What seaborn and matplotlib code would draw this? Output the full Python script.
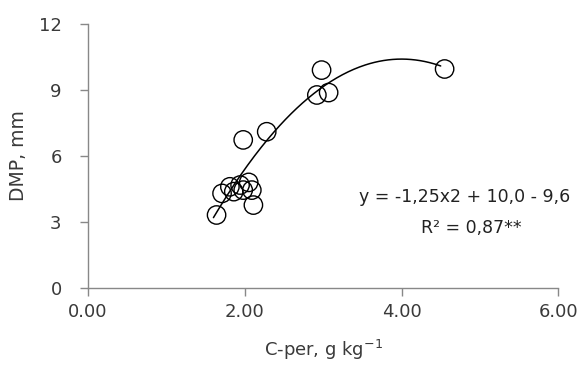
import numpy as np
import pandas as pd
import matplotlib
matplotlib.use("Agg")
import matplotlib.pyplot as plt
import seaborn as sns

# Data
c_per = [1.64, 1.71, 1.81, 1.86, 1.94, 1.98, 2.05, 2.09, 2.11, 1.98, 2.28, 2.92, 2.98, 3.07, 4.55]
dmp   = [3.32, 4.30, 4.60, 4.38, 4.68, 4.45, 4.80, 4.45, 3.77, 6.73, 7.10, 8.77, 9.90, 8.88, 9.95]
# Trendline coefficients shown on the chart (a*x^2 + b*x + c)
trend_coef = [-1.25, 10.0, -9.6]
trend_range = [1.6, 4.5]
x_ticks = [0, 2, 4, 6]
x_ticklabels = ["0.00", "2.00", "4.00", "6.00"]
y_ticks = [0, 3, 6, 9, 12]
eq_text = "y = -1,25x2 + 10,0 - 9,6"
r2_text = "R\u00b2 = 0,87**"

sns.set_theme(style="white")
plt.rcParams['font.family'] = ['DejaVu Sans']

fig = plt.figure(figsize=(5.87, 3.67), dpi=100)
ax = fig.add_axes([0.15, 0.215, 0.801, 0.72])

df = pd.DataFrame({"C": c_per, "DMP": dmp})
xs = np.linspace(trend_range[0], trend_range[1], 200)
ys = np.polyval(trend_coef, xs)
sns.lineplot(x=xs, y=ys, ax=ax, color="black", linewidth=1.1)
sns.scatterplot(data=df, x="C", y="DMP", ax=ax, marker="o", s=175,
                facecolors="none", edgecolor="black", linewidth=1.0)

ax.set_xlim(0, 6)
ax.set_ylim(0, 12)
ax.set_xticks(x_ticks)
ax.set_xticklabels(x_ticklabels)
ax.set_yticks(y_ticks)
txt_col = "#3a3a3a"
ax.set_xlabel("C-per, g kg$^{-1}$", fontsize=13, color=txt_col, labelpad=12)
ax.set_ylabel("DMP, mm", fontsize=13.5, color=txt_col, labelpad=8)
ax.tick_params(axis="y", left=True, labelsize=13, colors=txt_col, length=6,
               direction="out", width=1, color="#888888", pad=13)
ax.tick_params(axis="x", bottom=True, labelsize=13, colors=txt_col, length=6,
               direction="out", width=1, color="#888888", pad=5)
for s in ["top", "right"]:
    ax.spines[s].set_visible(False)
for s in ["left", "bottom"]:
    ax.spines[s].set_color("#888888")
    ax.spines[s].set_linewidth(1)

ax.text(4.81, 4.14, eq_text, ha="center", va="center", fontsize=12.5, color="#222222")
ax.text(4.89, 2.73, r2_text, ha="center", va="center", fontsize=12.5, color="#222222")

fig.savefig("out.png", dpi=100)
